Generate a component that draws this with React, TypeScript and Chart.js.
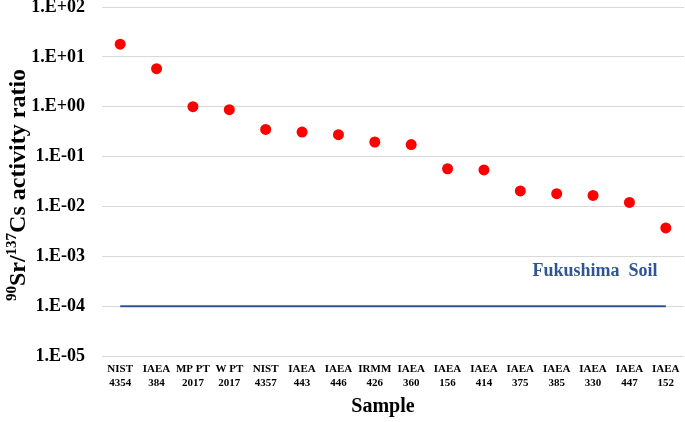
import React, { useEffect, useRef } from "react";
import { Chart, registerables } from "chart.js";

Chart.register(...registerables);

const categories: string[][] = [
  ["NIST", "4354"], ["IAEA", "384"], ["MP PT", "2017"], ["W PT", "2017"],
  ["NIST", "4357"], ["IAEA", "443"], ["IAEA", "446"], ["IRMM", "426"],
  ["IAEA", "360"], ["IAEA", "156"], ["IAEA", "414"], ["IAEA", "375"],
  ["IAEA", "385"], ["IAEA", "330"], ["IAEA", "447"], ["IAEA", "152"],
];
const ratios = [18, 5.8, 1.0, 0.87, 0.35, 0.31, 0.275, 0.196, 0.174, 0.057, 0.054, 0.0205, 0.018, 0.0166, 0.012, 0.0037];
const fukushimaSoilValue = 1e-4;
const fukushimaLabel = "Fukushima  Soil";
const yTickValues = [1e2, 1e1, 1, 1e-1, 1e-2, 1e-3, 1e-4, 1e-5];
const yTickLabels = ["1.E+02", "1.E+01", "1.E+00", "1.E-01", "1.E-02", "1.E-03", "1.E-04", "1.E-05"];
const xTitle = "Sample";

const FONT = "'Liberation Serif', 'Times New Roman', serif";
const BLUE = "#2F5597";

const textPlugin = {
  id: "customText",
  afterDraw(chart: any) {
    const ctx = chart.ctx;
    const xs = chart.scales.x;
    const ys = chart.scales.y;
    ctx.save();
    // Fukushima label
    ctx.font = `bold 18px ${FONT}`;
    ctx.fillStyle = BLUE;
    ctx.textAlign = "center";
    ctx.textBaseline = "middle";
    ctx.fillText(fukushimaLabel, xs.getPixelForValue(13) + 2, ys.getPixelForValue(5e-4));
    // X title
    ctx.fillStyle = "#000";
    ctx.font = `bold 20px ${FONT}`;
    ctx.fillText(xTitle, 383, 407);
    // Y title with superscripts
    const parts = [
      { t: "90", sup: true },
      { t: "Sr/", sup: false },
      { t: "137", sup: true },
      { t: "Cs activity ratio", sup: false },
    ];
    const bigFont = `bold 24px ${FONT}`;
    const smallFont = `bold 15px ${FONT}`;
    let total = 0;
    for (const p of parts) {
      ctx.font = p.sup ? smallFont : bigFont;
      total += ctx.measureText(p.t).width;
    }
    ctx.translate(25, 185);
    ctx.rotate(-Math.PI / 2);
    ctx.textAlign = "left";
    ctx.textBaseline = "alphabetic";
    let x = -total / 2;
    for (const p of parts) {
      ctx.font = p.sup ? smallFont : bigFont;
      ctx.fillText(p.t, x, p.sup ? -9 : 0);
      x += ctx.measureText(p.t).width;
    }
    ctx.restore();
  },
};

export default function App() {
  const ref = useRef<HTMLCanvasElement>(null);
  useEffect(() => {
    if (!ref.current) return;
    const chart = new Chart(ref.current, {
      type: "line",
      data: {
        labels: categories,
        datasets: [
          {
            label: "Fukushima Soil",
            data: categories.map(() => fukushimaSoilValue),
            borderColor: BLUE,
            borderWidth: 2,
            pointRadius: 0,
            fill: false,
            order: 2,
          },
          {
            label: "Ratio",
            data: ratios,
            showLine: false,
            pointRadius: 5.5,
            pointBackgroundColor: "#FF0000",
            pointBorderColor: "#FF0000",
            pointBorderWidth: 0,
            order: 1,
          },
        ],
      },
      options: {
        responsive: false,
        animation: false,
        devicePixelRatio: 1,
        layout: { autoPadding: false, padding: { top: 7, right: 1, left: 0, bottom: 0 } },
        plugins: { legend: { display: false }, tooltip: { enabled: false } },
        scales: {
          x: {
            type: "category",
            offset: true,
            grid: { display: false, drawTicks: false },
            border: { display: false },
            ticks: {
              color: "#000",
              font: { family: FONT, size: 11, weight: "bold" },
              padding: 7,
              maxRotation: 0,
              autoSkip: false,
            },
            afterFit(scale: any) {
              scale.height = 66;
              scale.paddingLeft = 0;
              scale.paddingRight = 0;
            },
          },
          y: {
            type: "logarithmic",
            min: 1e-5,
            max: 1e2,
            grid: { color: "#D9D9D9", lineWidth: 1, drawTicks: false },
            border: { display: false },
            afterBuildTicks(scale: any) {
              scale.ticks = yTickValues.map((v) => ({ value: v }));
            },
            ticks: {
              color: "#000",
              font: { family: FONT, size: 18, weight: "bold" },
              padding: 17,
              callback: (v: any) => {
                const i = yTickValues.findIndex((t) => Math.abs(Math.log10(t) - Math.log10(Number(v))) < 1e-6);
                return i >= 0 ? yTickLabels[i] : "";
              },
            },
            afterFit(scale: any) {
              scale.width = 102;
              scale.paddingTop = 0;
              scale.paddingBottom = 0;
            },
          },
        },
      },
      plugins: [textPlugin],
    });
    return () => chart.destroy();
  }, []);
  return (
    <div style={{ position: "absolute", left: 0, top: 0, width: 685, height: 422, background: "#fff" }}>
      <canvas ref={ref} width={685} height={422} style={{ display: "block" }} />
    </div>
  );
}
